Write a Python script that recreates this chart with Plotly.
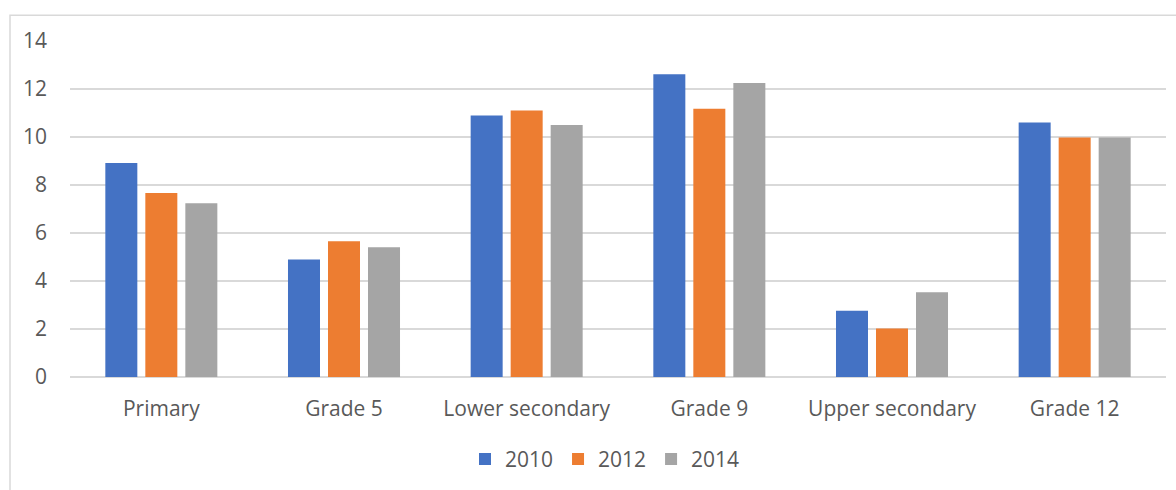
import plotly.graph_objects as go

categories = ["Primary", "Grade 5", "Lower secondary", "Grade 9", "Upper secondary", "Grade 12"]
series_names = ["2010", "2012", "2014"]
values_2010 = [8.92, 4.90, 10.90, 12.61, 2.76, 10.60]
values_2012 = [7.67, 5.66, 11.10, 11.18, 2.02, 9.98]
values_2014 = [7.24, 5.41, 10.50, 12.25, 3.53, 9.98]
colors = ["#4472C4", "#ED7D31", "#A5A5A5"]
y_ticks = [0, 2, 4, 6, 8, 10, 12, 14]

FONT = "Open Sans"
TXT = "#595959"
FS = 21

fig = go.Figure()
for name, vals, col in zip(series_names, [values_2010, values_2012, values_2014], colors):
    fig.add_trace(go.Bar(x=categories, y=vals, name=name, marker=dict(color=col, line=dict(width=0))))

W, H = 1176, 490
L, R, T, B = 70, 10, 41, 110
pw, ph = W - L - R, H - T - B

def px_x(p):
    return (p - L) / pw

def px_y(p):
    return (H - B - p) / ph

fig.update_layout(
    width=W, height=H,
    margin=dict(l=L, r=R, t=T, b=B),
    paper_bgcolor="white", plot_bgcolor="white",
    barmode="group", bargap=0.343, bargroupgap=0.2,
    font=dict(family=FONT, size=FS, color=TXT),
    showlegend=True,
    legend=dict(orientation="h", x=px_x(605), xanchor="center", y=px_y(463), yanchor="middle",
                font=dict(family=FONT, size=FS, color=TXT), itemwidth=30, traceorder="normal"),
    xaxis=dict(showgrid=False, showline=False, zeroline=False, ticks="",
               tickfont=dict(family=FONT, size=FS, color=TXT), ticklabelstandoff=17),
    yaxis=dict(range=[0, 14], tickvals=y_ticks, showgrid=True, gridcolor="#D9D9D9", gridwidth=1.5,
               zeroline=True, zerolinecolor="#D9D9D9", zerolinewidth=1.5, showline=False, ticks="",
               tickfont=dict(family=FONT, size=FS, color=TXT), ticklabelstandoff=22),
    shapes=[dict(type="rect", xref="paper", yref="paper",
                 x0=px_x(10), x1=px_x(1200), y0=px_y(15), y1=px_y(520),
                 line=dict(color="#D9D9D9", width=1.5), fillcolor="rgba(0,0,0,0)", layer="below")],
)

fig.write_html("out.html", config={"displayModeBar": False},
               post_script="document.body.style.margin='0px';document.body.style.padding='0px';")
